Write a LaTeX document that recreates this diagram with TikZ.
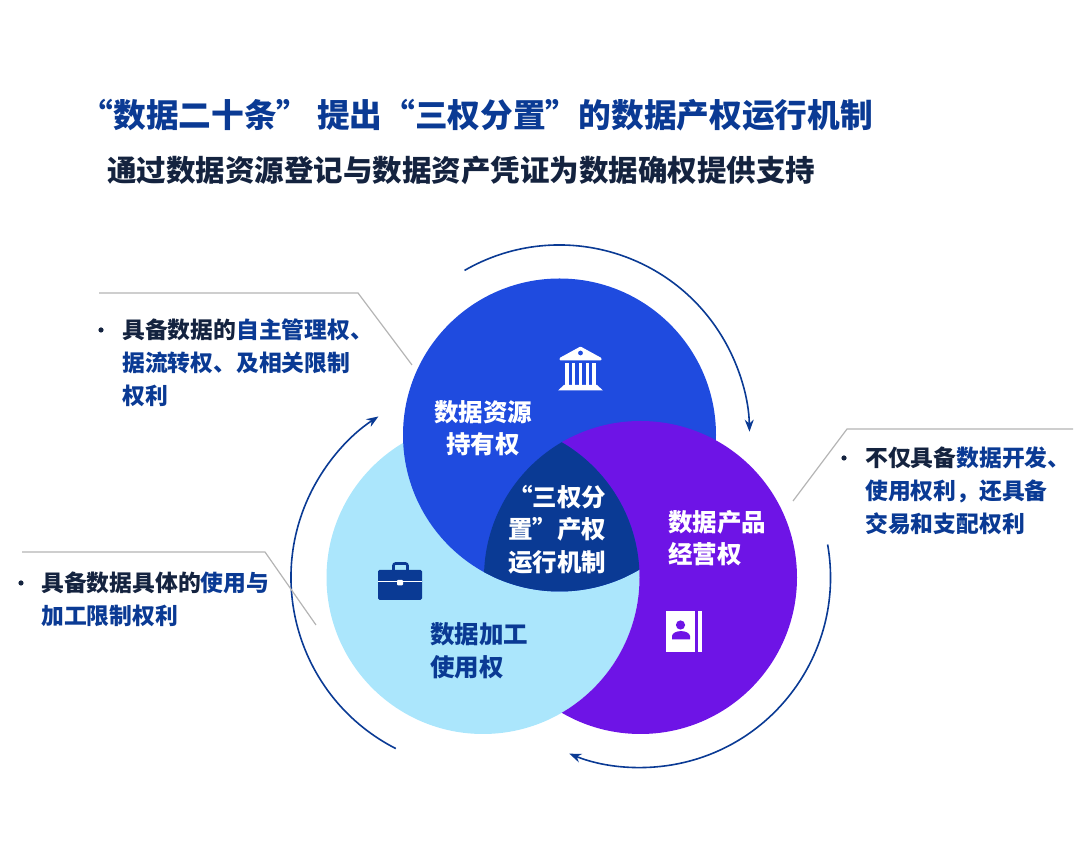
\documentclass[tikz,border=0pt]{standalone}
\usepackage{xcolor}
\usepackage{fontspec}
\setmainfont{Noto Sans CJK SC}
\usetikzlibrary{arrows.meta}
\definecolor{holdblue}{HTML}{1F4BDF}
\definecolor{runpurple}{HTML}{6E14E6}
\definecolor{usecyan}{HTML}{ABE6FC}
\definecolor{corenavy}{HTML}{0A3A94}
\definecolor{inkdark}{HTML}{14233F}
\definecolor{leadgray}{HTML}{B4B4B4}
\tikzset{
    circlelabel/.style={font=\fontsize{24.5}{32.5}\selectfont\bfseries,inner sep=0pt,text=white},
    sidetext/.style={font=\fontsize{22.8}{33}\selectfont\bfseries,inner sep=0pt,align=left,anchor=west,text=inkdark},
    flowarc/.style={corenavy,line width=1.6pt,-{Stealth[length=12pt,width=9pt]}},
    leader/.style={leadgray,line width=1.2pt}
}
\begin{document}
\begin{tikzpicture}[x=1pt,y=1pt]
    \useasboundingbox (0,0) rectangle (1080,854);
    \def\r{156.5pt}
    \coordinate (hold) at (559.5,419);
    \coordinate (use) at (483,276.5);
    \coordinate (run) at (640.5,276.5);
    % three circles, each one over the next
    \fill[usecyan] (use) circle [radius=\r];
    \fill[holdblue] (hold) circle [radius=\r];
    \begin{scope}[even odd rule]
        \clip (0,0) rectangle (1080,854) (use) circle [radius=\r];
        \fill[runpurple] (run) circle [radius=\r];
    \end{scope}
    \begin{scope}
        \clip (run) circle [radius=\r];
        \clip (use) circle [radius=\r];
        \fill[corenavy] (hold) circle [radius=\r];
    \end{scope}
    % arcs round the circles
    \draw[flowarc] (hold) ++(120:190pt) arc [start angle=120,end angle=1,radius=190pt];
    \draw[flowarc] (run) ++(10:190pt) arc [start angle=10,end angle=-112,radius=190pt];
    \draw[flowarc] (use) ++(243:192pt) arc [start angle=243,end angle=123,radius=192pt];
    % leader lines
    \coordinate (leadaa) at (99,561);
    \coordinate (leadab) at (358,561);
    \coordinate (leadac) at (412,489);
    \coordinate (leadba) at (1073,425);
    \coordinate (leadbb) at (847,425);
    \coordinate (leadbc) at (793,353);
    \coordinate (leadca) at (22,302);
    \coordinate (leadcb) at (265,302);
    \coordinate (leadcc) at (316,229);
    \draw[leader] (leadaa) -- (leadab) -- (leadac);
    \draw[leader] (leadba) -- (leadbb) -- (leadbc);
    \draw[leader] (leadca) -- (leadcb) -- (leadcc);
    % titles
    \node[inner sep=0pt,anchor=west,text=corenavy,font=\fontsize{32.7}{36}\selectfont\bfseries] (title) at (80.5,739)
        {“数据二十条” 提出“三权分置”的数据产权运行机制};
    \node[inner sep=0pt,anchor=west,text=inkdark,font=\fontsize{29.5}{34}\selectfont\bfseries] (subtitle) at (107,684)
        {通过数据资源登记与数据资产凭证为数据确权提供支持};
    % circle labels
    \node[circlelabel,align=center] (holdlabel) at (483,426) {数据资源\\持有权};
    \node[circlelabel,align=right,anchor=east] (corelabel) at (606.5,324.5) {“三权分\\置”产权\\运行机制};
    \node[circlelabel,align=left,anchor=west] (runlabel) at (668,316) {数据产品\\经营权};
    \node[circlelabel,align=left,anchor=west,text=corenavy] (uselabel) at (430,203) {数据加工\\使用权};
    % side texts
    \foreach \n/\x/\y in {a/101/524,b/844/396,c/21/271}
        \fill[inkdark] (\x,\y) circle [radius=2.6pt];
    \node[sidetext] (sidea) at (122,491) {具备数据的\textcolor{corenavy}{自主管理权、}\\\textcolor{corenavy}{据流转权、及相关限制}\\\textcolor{corenavy}{权利}};
    \node[sidetext] (sideb) at (865,363) {不仅具备\textcolor{corenavy}{数据开发、}\\\textcolor{corenavy}{使用权利，还具备}\\\textcolor{corenavy}{交易和支配权利}};
    \node[sidetext] (sidec) at (41,254.5) {具备数据具体的\textcolor{corenavy}{使用与}\\\textcolor{corenavy}{加工限制权利}};
    % bank icon
    \fill[white,rounded corners=1pt] (580.5,507.5) -- (601.5,496) -- (601.5,493.5) -- (559.5,493.5) -- (559.5,496) -- cycle;
    \fill[holdblue] (580.5,501) circle [radius=2.4pt];
    \foreach \x in {567,573.5,580.5,587.5,594}
        \fill[white] (\x-1.7,469) rectangle (\x+1.7,491);
    \fill[white] (564,469) -- (597,469) -- (603,463.5) -- (558,463.5) -- cycle;
    % briefcase icon
    \draw[corenavy,line width=2.6pt,rounded corners=2pt] (393.5,283) -- (393.5,290.5) -- (407.5,290.5) -- (407.5,283);
    \fill[corenavy,rounded corners=1.5pt] (378,254) rectangle (422,284);
    \fill[white] (378,272) rectangle (422,273.3);
    \fill[white,rounded corners=1pt] (397,268.5) rectangle (403,274);
    % notebook icon
    \fill[white] (666,202) rectangle (695,243);
    \fill[white] (698,202) rectangle (702,243);
    \fill[runpurple] (680.5,229) circle [radius=4.6pt];
    \fill[runpurple] (672,214.5) -- (672,218) .. controls (673,224.5) and (689,224.5) .. (690,218) -- (690,214.5) -- cycle;
\end{tikzpicture}
\end{document}
